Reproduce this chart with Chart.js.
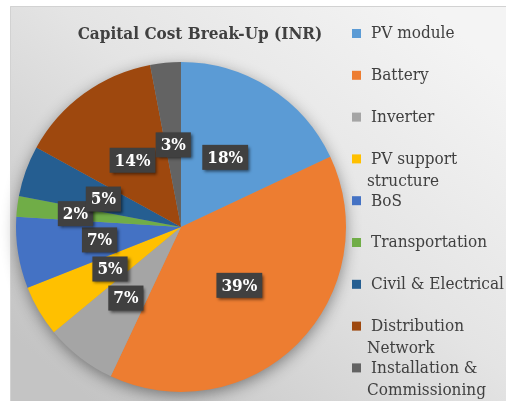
<!DOCTYPE html>
<html>
<head>
<meta charset="utf-8">
<script src="https://cdn.jsdelivr.net/npm/chart.js@4/dist/chart.umd.min.js"></script>
<style>
  html, body { margin: 0; padding: 0; background: #ffffff; }
  canvas { display: block; }
</style>
</head>
<body>
<canvas id="plot" width="506" height="401"></canvas>
<script>
// chart data

const titleText = 'Capital Cost Break-Up (INR)'
const categories = [
  ['PV module'],
  ['Battery'],
  ['Inverter'],
  ['PV support', 'structure'],
  ['BoS'],
  ['Transportation'],
  ['Civil & Electrical'],
  ['Distribution', 'Network'],
  ['Installation &', 'Commissioning']
]
const shares = [18, 39, 7, 5, 7, 2, 5, 14, 3]
const sliceColors = ['#5B9BD5', '#ED7D31', '#A5A5A5', '#FFC000', '#4472C4', '#70AD47', '#255E91', '#9E480E', '#636363']

// label placement (radial stretch of the mid-radius point)
const labelStretch = [1, 1, 1.09, 1, 1, 1.29, 1, 1, 1]

const serif = '"DejaVu Serif Condensed", "DejaVu Serif", serif'

// plugins

const backdrop = {
  id: 'backdrop',
  beforeDraw(chart) {
    const ctx = chart.ctx
    ctx.save()
    ctx.fillStyle = '#ffffff'
    ctx.fillRect(0, 0, chart.width, chart.height)
    const g = ctx.createLinearGradient(420, 0, 90, 401)
    g.addColorStop(0, '#f4f4f4')
    g.addColorStop(0.45, '#e4e4e4')
    g.addColorStop(1, '#c4c4c4')
    ctx.fillStyle = g
    ctx.fillRect(10, 6, chart.width - 10, chart.height - 6)
    ctx.strokeStyle = '#d2d2d2'
    ctx.lineWidth = 1
    ctx.beginPath()
    ctx.moveTo(10.5, chart.height)
    ctx.lineTo(10.5, 6.5)
    ctx.lineTo(chart.width, 6.5)
    ctx.stroke()
    ctx.restore()
  },
  beforeDatasetsDraw(chart) {
    // soft shadow under the whole pie
    const arc = chart.getDatasetMeta(0).data[0]
    const ctx = chart.ctx
    ctx.save()
    ctx.shadowColor = 'rgba(0,0,0,0.45)'
    ctx.shadowBlur = 16
    ctx.shadowOffsetX = 0
    ctx.shadowOffsetY = 4
    ctx.fillStyle = '#999999'
    ctx.beginPath()
    ctx.arc(arc.x, arc.y, arc.outerRadius - 1, 0, Math.PI * 2)
    ctx.fill()
    ctx.restore()
  }
}

const sliceLabels = {
  id: 'sliceLabels',
  afterDatasetsDraw(chart) {
    const ctx = chart.ctx
    const meta = chart.getDatasetMeta(0)
    const total = shares.reduce((a, b) => a + b, 0)
    ctx.save()
    ctx.font = 'bold 17px ' + serif
    ctx.textAlign = 'center'
    ctx.textBaseline = 'middle'
    meta.data.forEach((arc, i) => {
      const pos = arc.tooltipPosition()
      const k = labelStretch[i]
      const x = arc.x + (pos.x - arc.x) * k
      const y = arc.y + (pos.y - arc.y) * k
      const txt = Math.round(shares[i] / total * 100) + '%'
      const w = ctx.measureText(txt).width + 10
      const h = 25
      ctx.shadowColor = 'rgba(0,0,0,0.55)'
      ctx.shadowBlur = 3
      ctx.shadowOffsetX = 2
      ctx.shadowOffsetY = 2
      ctx.fillStyle = '#404040'
      ctx.fillRect(x - w / 2, y - h / 2, w, h)
      ctx.shadowColor = 'transparent'
      ctx.fillStyle = '#ffffff'
      ctx.fillText(txt, x, y + 1)
    })
    ctx.restore()
  }
}

const sideText = {
  id: 'sideText',
  afterDraw(chart) {
    const ctx = chart.ctx
    ctx.save()
    // title
    ctx.fillStyle = '#404040'
    ctx.font = 'bold 17px ' + serif
    ctx.textAlign = 'center'
    ctx.textBaseline = 'middle'
    ctx.fillText(titleText, 200, 35)
    // legend
    ctx.font = '17px ' + serif
    ctx.textAlign = 'left'
    categories.forEach((lines, i) => {
      const y = 34 + i * 41.8
      ctx.fillStyle = sliceColors[i]
      ctx.fillRect(352, y - 5, 9, 9)
      ctx.fillStyle = '#404040'
      lines.forEach((line, j) => {
        ctx.fillText(line, j === 0 ? 371 : 367, y + j * 22)
      })
    })
    ctx.restore()
  }
}

// define the chart

const chart = new Chart(
  document.getElementById('plot'),
  {
    type: 'pie',
    data: {
      labels: categories,
      datasets: [{
        data: shares,
        backgroundColor: sliceColors,
        borderWidth: 0
      }]
    },
    options: {
      responsive: false,
      animation: false,
      events: [],
      layout: {
        padding: { left: 16, right: 160, top: 62, bottom: 9 }
      },
      plugins: {
        legend: { display: false },
        tooltip: { enabled: false },
        title: { display: false }
      }
    },
    plugins: [backdrop, sliceLabels, sideText]
  }
)
</script>
</body>
</html>
